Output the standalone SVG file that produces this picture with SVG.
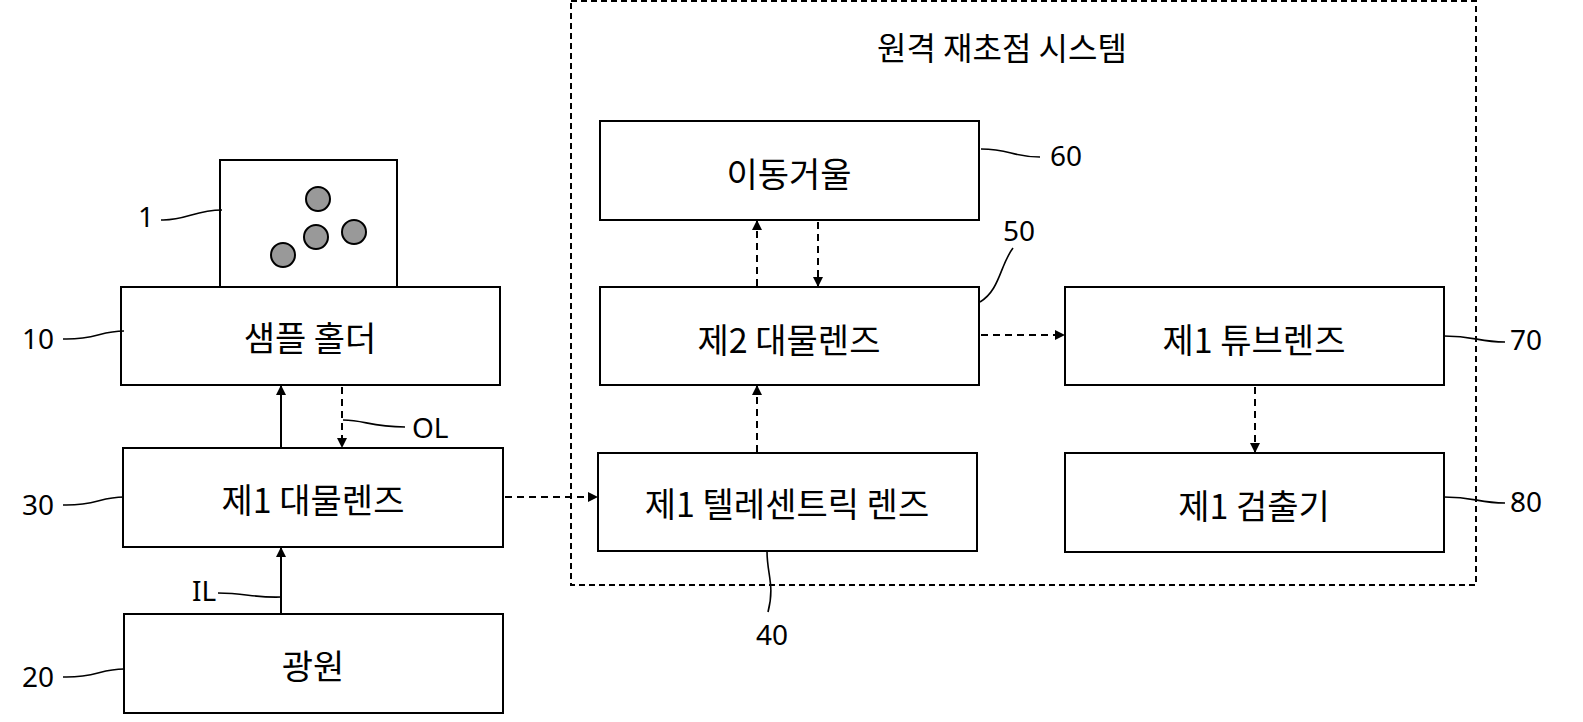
<svg xmlns="http://www.w3.org/2000/svg" width="1583" height="722" viewBox="0 0 1583 722">
<style>
.b{fill:#fff;stroke:#000;stroke-width:2}
.t{font-family:"Noto Sans CJK KR","Noto Sans",sans-serif;font-size:34px;text-anchor:middle;dominant-baseline:central}
.n{font-family:"Noto Sans","Noto Sans CJK KR",sans-serif;font-size:28px;dominant-baseline:central}
.l{fill:none;stroke:#000;stroke-width:1.6}
.s{stroke:#000;stroke-width:2;fill:none}
.d{stroke:#000;stroke-width:2;fill:none;stroke-dasharray:7 5}
.c{fill:#999;stroke:#000;stroke-width:2}
</style>
<defs><marker id="a" markerWidth="10" markerHeight="10" refX="9" refY="5" orient="auto" markerUnits="userSpaceOnUse"><path d="M0,0 L10,5 L0,10Z"/></marker></defs>
<rect x="571" y="1" width="905" height="584" fill="none" stroke="#000" stroke-width="2" stroke-dasharray="6 4"/>
<text class="t" x="1002" y="46" style="font-size:32px">원격 재초점 시스템</text>
<g id="sample"><rect class="b" x="220" y="160" width="177" height="127"/><circle class="c" cx="318" cy="199" r="12"/><circle class="c" cx="316" cy="237" r="12"/><circle class="c" cx="354" cy="232" r="12"/><circle class="c" cx="283" cy="255" r="12"/><path class="l" d="M161,220 C185,221 195,210 222,210"/><text class="n" x="138" y="216">1</text></g>
<g id="holder"><rect class="b" x="121" y="287" width="379" height="98"/><text class="t" x="310" y="336">샘플 홀더</text><path class="l" d="M63,339 C95,340 100,331 124,331"/><text class="n" x="22" y="338">10</text></g>
<g id="obj1"><rect class="b" x="123" y="448" width="380" height="99"/><text class="t" x="313" y="498">제1 대물렌즈</text><path class="l" d="M63,505 C95,506 100,497 124,497"/><text class="n" x="22" y="504">30</text></g>
<g id="source"><rect class="b" x="124" y="614" width="379" height="99"/><text class="t" x="313" y="664">광원</text><path class="l" d="M63,677 C95,678 100,669 124,669"/><text class="n" x="22" y="676">20</text></g>
<g id="mirror"><rect class="b" x="600" y="121" width="379" height="99"/><text class="t" x="789" y="172">이동거울</text><path class="l" d="M981,149 C1010,149 1012,157 1040,157"/><text class="n" x="1050" y="155">60</text></g>
<g id="obj2"><rect class="b" x="600" y="287" width="379" height="98"/><text class="t" x="789" y="338">제2 대물렌즈</text><path class="l" d="M980,302 C1000,290 1000,265 1013,248"/><text class="n" x="1003" y="230">50</text></g>
<g id="tele"><rect class="b" x="598" y="453" width="379" height="98"/><text class="t" x="787" y="502">제1 텔레센트릭 렌즈</text><path class="l" d="M767,551 C767,575 775,585 768,612"/><text class="n" x="756" y="634">40</text></g>
<g id="tube"><rect class="b" x="1065" y="287" width="379" height="98"/><text class="t" x="1254" y="338">제1 튜브렌즈</text><path class="l" d="M1444,336 C1475,336 1478,342 1505,342"/><text class="n" x="1510" y="339">70</text></g>
<g id="det"><rect class="b" x="1065" y="453" width="379" height="99"/><text class="t" x="1254" y="504">제1 검출기</text><path class="l" d="M1444,497 C1475,497 1478,503 1505,503"/><text class="n" x="1510" y="501">80</text></g>
<g id="connectors">
<path class="s" d="M281,448 V386" marker-end="url(#a)"/>
<path class="d" d="M342,387 V447" marker-end="url(#a)"/>
<path class="l" d="M343,420 C365,420 370,427 405,427"/><text class="n" x="412" y="427">OL</text>
<path class="s" d="M281,614 V548" marker-end="url(#a)"/>
<path class="l" d="M218,593 C245,593 255,598 281,597"/><text class="n" x="192" y="590">IL</text>
<path class="d" d="M505,497 H597" marker-end="url(#a)"/>
<path class="d" d="M757,452 V386" marker-end="url(#a)"/>
<path class="d" d="M757,286 V221" marker-end="url(#a)"/>
<path class="d" d="M818,222 V286" marker-end="url(#a)"/>
<path class="d" d="M981,335 H1064" marker-end="url(#a)"/>
<path class="d" d="M1255,387 V452" marker-end="url(#a)"/>
</g>
</svg>
